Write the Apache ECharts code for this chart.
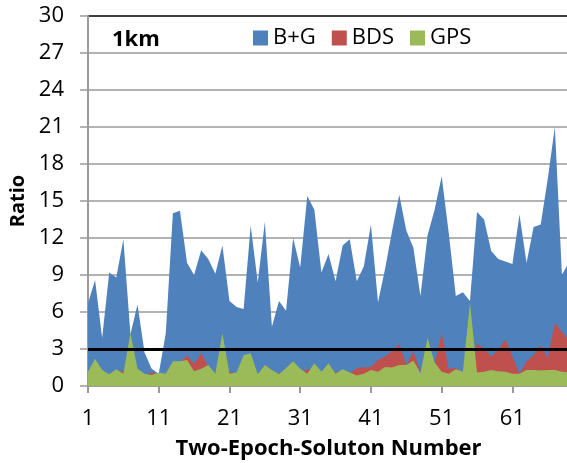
<!DOCTYPE html>
<html>
<head>
<meta charset="utf-8">
<script src="https://cdn.jsdelivr.net/npm/echarts@6/dist/echarts.min.js"></script>
<style>
html,body{margin:0;padding:0;background:#fff;}
#chart{width:567px;height:463px;}
</style>
</head>
<body>
<div id="chart"></div>
<script>
var categories = [];
for (var n = 1; n <= 69; n++) categories.push(String(n));

var bgValues = [6.7, 8.6, 3.9, 9.2, 8.8, 11.9, 4.2, 6.6, 2.7, 1.4,
  1.0, 4.3, 14.0, 14.2, 10.0, 9.0, 11.0, 10.3, 9.1, 11.4,
  6.9, 6.4, 6.25, 13.0, 8.4, 13.3, 4.8, 6.9, 6.1, 12.0,
  9.6, 15.4, 14.3, 9.2, 10.7, 8.5, 11.4, 11.9, 8.5, 9.7,
  13.1, 6.8, 9.5, 12.6, 15.5, 12.6, 11.2, 7.3, 12.2, 14.3,
  17.0, 12.4, 7.3, 7.6, 6.9, 14.1, 13.5, 10.95, 10.3, 10.1,
  9.9, 13.9, 10.0, 12.9, 13.1, 16.8, 21.0, 9.05, 10.0];

var bdsValues = [1.0, 1.8, 1.1, 0.9, 1.2, 1.2, 1.5, 1.2, 0.9, 1.1,
  1.0, 1.0, 1.8, 1.9, 2.5, 1.8, 2.65, 1.6, 0.9, 1.2,
  1.15, 1.0, 2.0, 2.3, 0.9, 1.5, 1.2, 1.0, 1.3, 1.8,
  1.2, 1.3, 1.5, 1.0, 1.6, 1.1, 1.2, 1.0, 1.45, 1.5,
  1.55, 2.1, 2.4, 2.8, 3.4, 1.7, 2.8, 1.15, 1.5, 1.7,
  4.3, 1.4, 1.45, 1.1, 1.3, 3.4, 3.05, 2.4, 2.9, 3.8,
  2.4, 1.0, 2.0, 2.5, 3.3, 2.25, 5.1, 4.4, 3.7];

var gpsValues = [1.16, 2.2, 1.3, 0.95, 1.35, 1.0, 4.3, 1.4, 1.0, 0.9,
  1.1, 1.0, 2.0, 2.0, 2.1, 1.2, 1.4, 1.7, 1.0, 4.3,
  1.0, 1.1, 2.5, 2.65, 0.95, 1.7, 1.3, 0.95, 1.45, 2.0,
  1.4, 1.0, 1.85, 1.15, 1.85, 1.0, 1.35, 1.1, 0.85, 1.0,
  1.3, 1.15, 1.55, 1.5, 1.7, 1.7, 2.05, 1.05, 3.9, 1.9,
  1.15, 1.0, 1.35, 1.15, 6.75, 1.1, 1.15, 1.3, 1.2, 1.15,
  1.0, 1.0, 1.3, 1.3, 1.25, 1.3, 1.3, 1.15, 1.1];

var seriesNames = ['B+G', 'BDS', 'GPS'];
var seriesColors = ['#4F81BD', '#C0504D', '#9BBB59'];
var thresholdValue = 3;
var panelLabel = '1km';

var FONT = '"Open Sans", "Liberation Sans", sans-serif';
var gridColors = [];
for (var k = 0; k < 10; k++) gridColors.push('#9a9a9a');
gridColors.push('#000000');

function areaSeries(idx, data) {
  return {
    name: seriesNames[idx],
    type: 'line',
    data: data,
    symbol: 'none',
    smooth: false,
    lineStyle: { width: 0, color: seriesColors[idx] },
    itemStyle: { color: seriesColors[idx] },
    areaStyle: { color: seriesColors[idx], opacity: 1 },
    animation: false,
    z: 2 + idx
  };
}

var series = [areaSeries(0, bgValues), areaSeries(1, bdsValues), areaSeries(2, gpsValues)];
series.push({
  name: 'threshold',
  type: 'line',
  data: [],
  markLine: {
    silent: true,
    symbol: 'none',
    label: { show: false },
    lineStyle: { color: '#000', width: 3, type: 'solid' },
    data: [{ yAxis: thresholdValue }]
  },
  z: 10
});

var chart = echarts.init(document.getElementById('chart'));
chart.setOption({
  animation: false,
  backgroundColor: '#fff',
  title: {
    text: panelLabel,
    left: 107,
    top: 24,
    textStyle: { fontFamily: FONT, fontWeight: 'bold', fontSize: 22, color: '#000' }
  },
  legend: {
    data: seriesNames,
    left: 248,
    top: 22,
    itemWidth: 15,
    itemHeight: 15,
    itemGap: 16,
    icon: 'rect',
    textStyle: { fontFamily: FONT, fontSize: 22, color: '#000' }
  },
  grid: { left: 88, right: -2, top: 16, bottom: 77, containLabel: false, outerBoundsMode: 'none' },
  xAxis: {
    type: 'category',
    data: categories,
    boundaryGap: false,
    name: 'Two-Epoch-Soluton Number',
    nameLocation: 'middle',
    nameGap: 52,
    nameTextStyle: { fontFamily: FONT, fontWeight: 'bold', fontSize: 22, color: '#000' },
    axisLine: { lineStyle: { color: '#9a9a9a', width: 2 } },
    axisTick: {
      show: true, length: 7, lineStyle: { color: '#9a9a9a', width: 2 },
      interval: function (i) { return i % 10 === 0; }
    },
    axisLabel: {
      fontFamily: FONT, fontSize: 22, color: '#000', margin: 22,
      interval: function (i) { return i % 10 === 0; }
    },
    splitLine: { show: false }
  },
  yAxis: {
    type: 'value',
    min: 0,
    max: 30,
    interval: 3,
    name: 'Ratio',
    nameLocation: 'middle',
    nameGap: 56,
    nameTextStyle: { fontFamily: FONT, fontWeight: 'bold', fontSize: 20, color: '#000' },
    axisLine: { show: true, lineStyle: { color: '#9a9a9a', width: 2 } },
    axisTick: { show: true, length: 8, lineStyle: { color: '#9a9a9a', width: 1.5 } },
    axisLabel: { fontFamily: FONT, fontSize: 22, color: '#000', margin: 24 },
    splitLine: { show: true, lineStyle: { color: gridColors, width: 1.5 } }
  },
  series: series
});
</script>
</body>
</html>
